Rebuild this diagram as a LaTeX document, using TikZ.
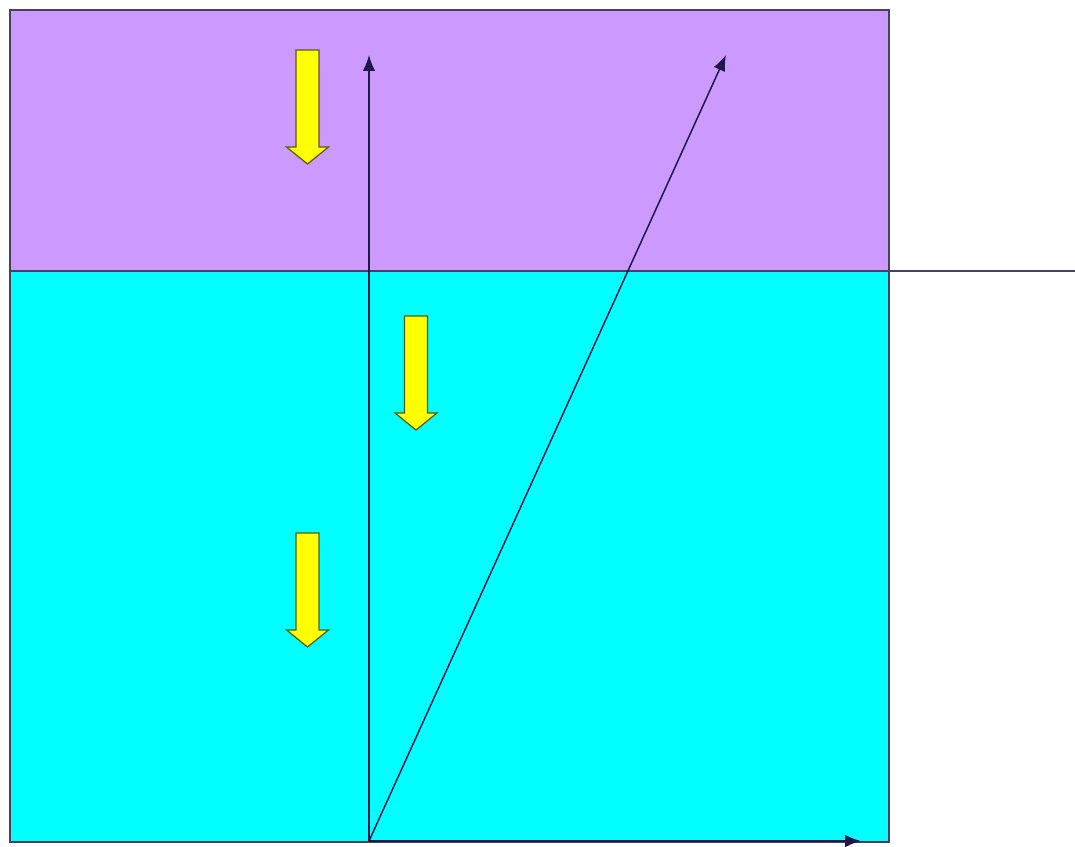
\documentclass[tikz,border=0pt]{standalone}
\usetikzlibrary{arrows.meta}
\definecolor{lilac}{HTML}{CC99FF}
\definecolor{aqua}{HTML}{00FFFF}
\definecolor{ink}{HTML}{1E1848}
\definecolor{yel}{HTML}{FFFF00}
\definecolor{yedge}{HTML}{5A5A10}
\begin{document}
\begin{tikzpicture}[x=0.02cm,y=-0.02cm,
  vec/.style={draw=ink,line width=0.85pt,-{Latex[length=9,width=7]}},
  edge/.style={draw=ink!60!gray,line width=0.8},
  yarrow/.pic={\path[fill=yel,draw=yedge,line width=0.7]
     (-11.5,0) -- (11.5,0) -- (11.5,97) -- (21,97) -- (0,114) -- (-21,97) -- (-11.5,97) -- cycle;}]
\useasboundingbox (0,0) rectangle (1075,846);
\fill[lilac] (10,10) rectangle (889,271);
\fill[aqua] (10,271) rectangle (889,842);
\draw[edge] (10,10) rectangle (889,842);
\coordinate (L) at (10,271);
\coordinate (R) at (1075,271);
\draw[edge] (L) -- (R);
\coordinate (O) at (369,841);
\coordinate (up) at (369,55);
\coordinate (slant) at (726,55);
\coordinate (side) at (861,841);
\draw[vec] (O) -- (up);
\draw[vec] (O) -- (slant);
\draw[vec] (O) -- (side);
\pic at (307.5,50) {yarrow};
\pic at (416,316) {yarrow};
\pic at (307.5,533) {yarrow};
\end{tikzpicture}
\end{document}
